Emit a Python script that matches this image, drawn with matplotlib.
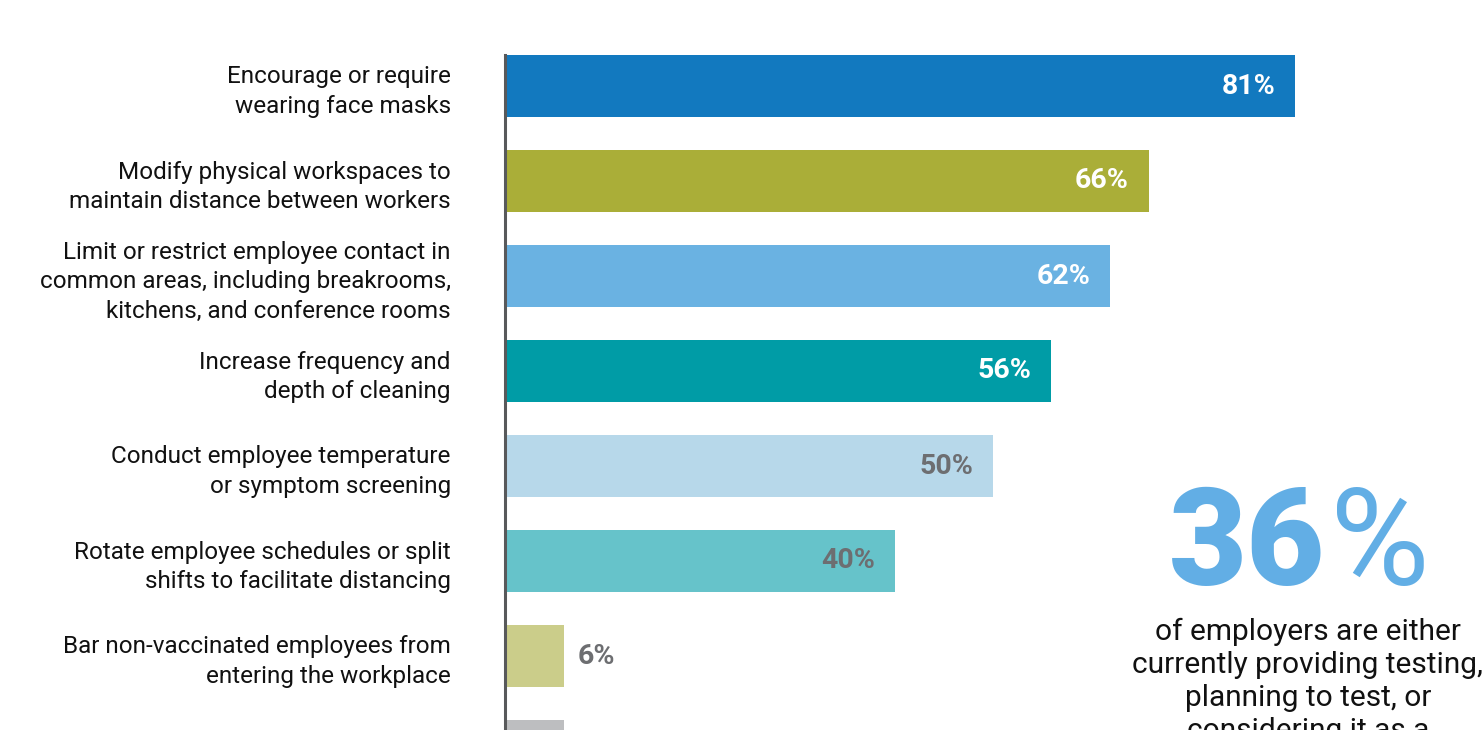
import matplotlib
matplotlib.use("Agg")
import matplotlib.pyplot as plt
import matplotlib.font_manager as fm

# ---------------- data ----------------
categories = [
    "Encourage or require\nwearing face masks",
    "Modify physical workspaces to\nmaintain distance between workers",
    "Limit or restrict employee contact in\ncommon areas, including breakrooms,\nkitchens, and conference rooms",
    "Increase frequency and\ndepth of cleaning",
    "Conduct employee temperature\nor symptom screening",
    "Rotate employee schedules or split\nshifts to facilitate distancing",
    "Bar non-vaccinated employees from\nentering the workplace",
    "",
]
values = [81, 66, 62, 56, 50, 40, 6, 6]
bar_colors = ["#1279BF", "#AAAE38", "#6AB2E2", "#009CA6",
              "#B7D8EA", "#66C3CA", "#CBCD8A", "#BDBEC0"]
label_colors = ["white", "white", "white", "white",
                "#6D6E71", "#6D6E71", "#6D6E71", "#6D6E71"]
big_number = "36"
big_text = "of employers are either\ncurrently providing testing,\nplanning to test, or\nconsidering it as a"

# ---------------- fonts ----------------
names = {f.name for f in fm.fontManager.ttflist}
label_family = ["Roboto", "DejaVu Sans"] if "Roboto" in names else ["DejaVu Sans"]

W, H = 1484, 730
fig = plt.figure(figsize=(W / 100, H / 100), dpi=100)
x0 = 505
ax = fig.add_axes([x0 / W, 0, 975 / W, (H - 55) / H])

ys = list(range(len(values)))
ax.barh(ys, values, height=0.653, color=bar_colors, zorder=2)

val_fs = 20.5
for y, v, lc in zip(ys, values, label_colors):
    if v > 20:
        ax.text(v - 2.0, y, f"{v}%", ha="right", va="center", color=lc,
                fontsize=val_fs, fontweight="bold", family=label_family,
                zorder=3)
    else:
        ax.text(v + 1.4, y, f"{v}%", ha="left", va="center", color=lc,
                fontsize=val_fs, fontweight="bold", family=label_family,
                zorder=3)

ax.set_yticks(ys)
ax.set_yticklabels(categories, fontsize=17.5, family=label_family,
                   color="#111111", linespacing=1.36)
ax.tick_params(axis="y", length=0, pad=39)
ax.set_xticks([])
ax.set_xlim(0, 100)
ax.set_ylim((H - 86) / 95, -31 / 95)
for s in ["top", "right", "bottom"]:
    ax.spines[s].set_visible(False)
ax.spines["left"].set_color("#58595B")
ax.spines["left"].set_linewidth(2.2)
ax.spines["left"].set_zorder(5)

# big callout
fig.text(1325 / W, 1 - 585 / H, big_number, ha="right", va="baseline",
         fontsize=97, fontweight="black", family=label_family,
         color="#62AEE5")
fig.text(1330 / W, 1 - 585 / H, "%", ha="left", va="baseline",
         fontsize=98, fontweight="normal", family=label_family,
         color="#62AEE5")
fig.text(1308 / W, 1 - 618 / H, big_text, ha="center", va="top",
         fontsize=21.5, family=label_family, color="#111111",
         linespacing=1.22)

fig.savefig("out.png", dpi=100)
